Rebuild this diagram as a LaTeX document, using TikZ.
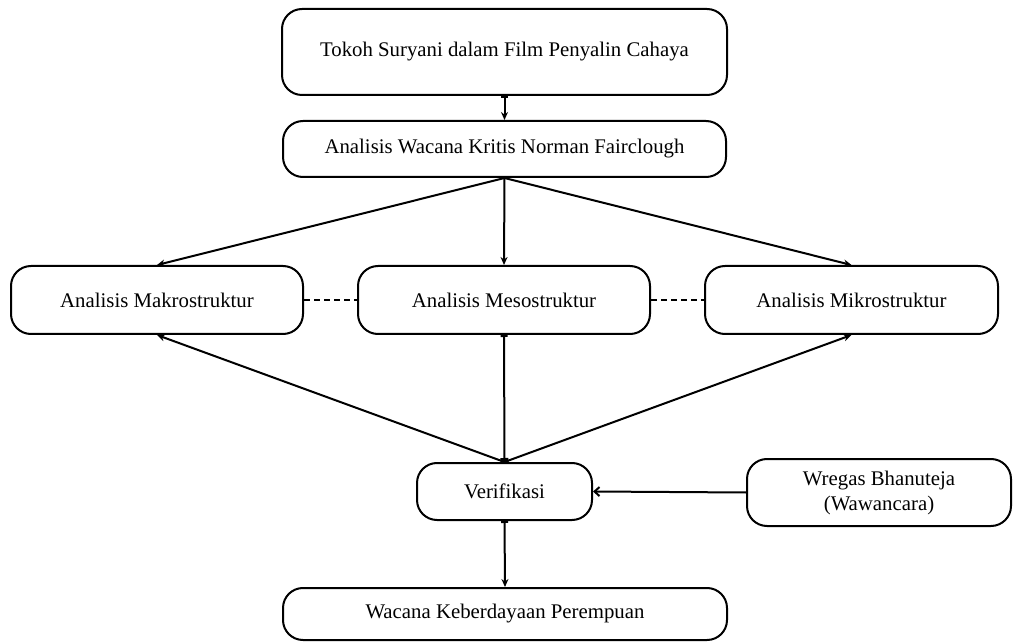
\documentclass[tikz,border=0pt]{standalone}
\usepackage{fontspec}
\setmainfont{Liberation Serif}
\usetikzlibrary{arrows.meta}
\begin{document}
\begin{tikzpicture}[x=1pt,y=-1pt,
  box/.style={draw,line width=2pt,rounded corners=20pt,align=center,inner sep=0pt,
    font=\fontsize{20.8}{25}\selectfont},
  conn/.style={line width=2pt},
  tip/.style={-{Stealth[length=8pt,width=7pt]}},
  bartip/.style={{Bar[width=7pt]}-{Stealth[length=8pt,width=7pt]}},
  dashline/.style={line width=2pt,dash pattern=on 6pt off 4pt}]
\useasboundingbox (0,0) rectangle (1015,644);
\node[box,minimum width=445pt,minimum height=86pt] (top) at (504.5,52) {\raisebox{4pt}{Tokoh Suryani dalam Film Penyalin Cahaya}};
\node[box,minimum width=443pt,minimum height=56pt] (fair) at (504.5,149) {Analisis Wacana Kritis Norman Fairclough};
\node[box,minimum width=292pt,minimum height=68pt] (makro) at (157,300) {Analisis Makrostruktur};
\node[box,minimum width=292pt,minimum height=68pt] (meso) at (504,300) {Analisis Mesostruktur};
\node[box,minimum width=293pt,minimum height=68pt] (mikro) at (851.5,300) {Analisis Mikrostruktur};
\node[box,minimum width=175pt,minimum height=57pt] (verif) at (504.5,491.5) {Verifikasi};
\node[box,minimum width=264pt,minimum height=67pt] (wregas) at (879,492.5) {Wregas Bhanuteja\\(Wawancara)};
\node[box,minimum width=444pt,minimum height=52pt] (bottom) at (505,614) {Wacana Keberdayaan Perempuan};

\draw[conn,bartip] (top.south) -- (fair.north);
\draw[conn,tip] (fair.south) -- (makro.north);
\draw[conn,tip] (fair.south) -- (meso.north);
\draw[conn,tip] (fair.south) -- (mikro.north);
\draw[dashline] (makro.east) -- (meso.west);
\draw[dashline] (meso.east) -- (mikro.west);
\draw[conn,tip] (verif.north) -- (makro.south);
\draw[conn,tip] (verif.north) -- (mikro.south);
\draw[conn,{Bar[width=7pt]}-{Square[length=4pt,width=8pt]}] (meso.south) -- (verif.north);
\draw[conn,-{Straight Barb[length=5pt,width=9pt]}] (wregas.west) -- (verif.east);
\draw[conn,bartip] (verif.south) -- (bottom.north);
\end{tikzpicture}
\end{document}
